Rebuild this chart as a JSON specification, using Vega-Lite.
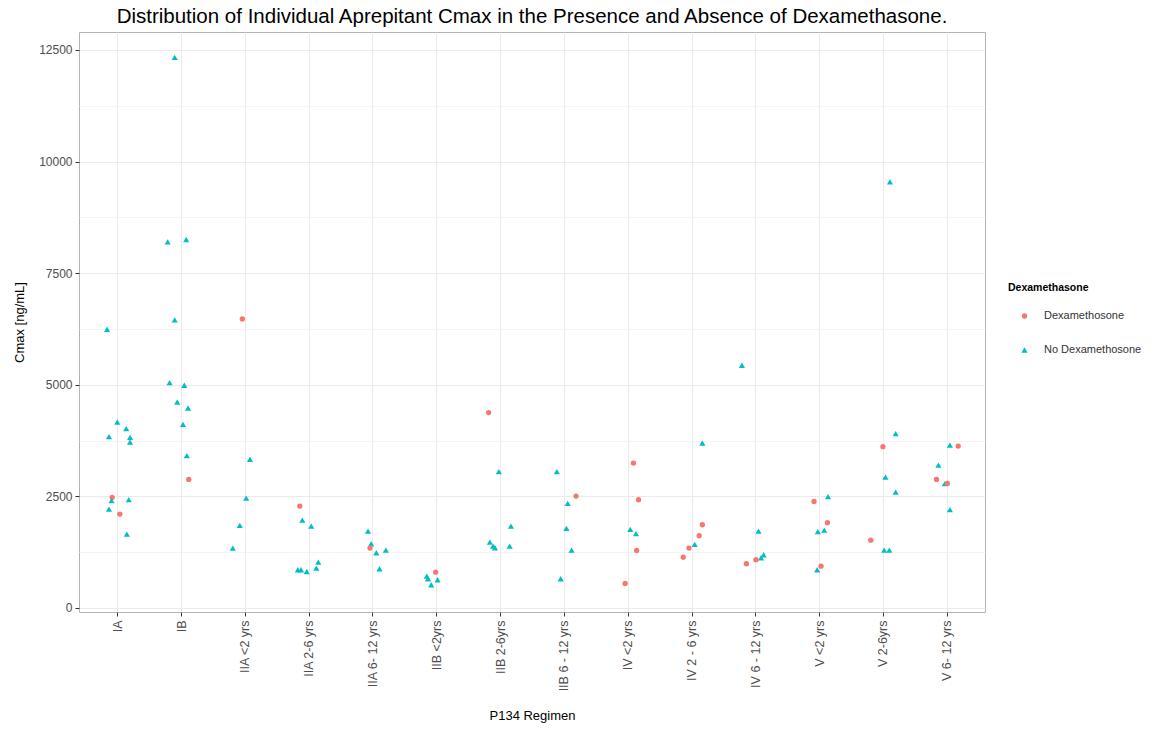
{
  "$schema": "https://vega.github.io/schema/vega-lite/v6.json",
  "autosize": {"type": "none"},
  "width": 906,
  "height": 580,
  "padding": {"left": 79, "top": 32, "right": 188, "bottom": 117},
  "background": "white",
  "config": {
    "font": "Liberation Sans",
    "view": {"stroke": "#b3b3b3", "strokeWidth": 1}
  },
  "title": {
    "text": "Distribution of Individual Aprepitant Cmax in the Presence and Absence of Dexamethasone.",
    "fontSize": 20.5,
    "fontWeight": "normal",
    "color": "black",
    "anchor": "middle",
    "offset": 5
  },
  "data": {
    "values": [
      {"r": "IA", "c": 6244, "d": "No Dexamethosone", "j": -0.16},
      {"r": "IA", "c": 4166, "d": "No Dexamethosone", "j": 0.0},
      {"r": "IA", "c": 4018, "d": "No Dexamethosone", "j": 0.14},
      {"r": "IA", "c": 3839, "d": "No Dexamethosone", "j": -0.13},
      {"r": "IA", "c": 3823, "d": "No Dexamethosone", "j": 0.2},
      {"r": "IA", "c": 3717, "d": "No Dexamethosone", "j": 0.2},
      {"r": "IA", "c": 2478, "d": "Dexamethosone", "j": -0.08},
      {"r": "IA", "c": 2404, "d": "No Dexamethosone", "j": -0.09},
      {"r": "IA", "c": 2426, "d": "No Dexamethosone", "j": 0.18},
      {"r": "IA", "c": 2215, "d": "No Dexamethosone", "j": -0.13},
      {"r": "IA", "c": 2103, "d": "Dexamethosone", "j": 0.04},
      {"r": "IA", "c": 1655, "d": "No Dexamethosone", "j": 0.15},
      {"r": "IB", "c": 12336, "d": "No Dexamethosone", "j": -0.1},
      {"r": "IB", "c": 8202, "d": "No Dexamethosone", "j": -0.21},
      {"r": "IB", "c": 8255, "d": "No Dexamethosone", "j": 0.08},
      {"r": "IB", "c": 6453, "d": "No Dexamethosone", "j": -0.1},
      {"r": "IB", "c": 5049, "d": "No Dexamethosone", "j": -0.18},
      {"r": "IB", "c": 4989, "d": "No Dexamethosone", "j": 0.05},
      {"r": "IB", "c": 4614, "d": "No Dexamethosone", "j": -0.06},
      {"r": "IB", "c": 4480, "d": "No Dexamethosone", "j": 0.11},
      {"r": "IB", "c": 4114, "d": "No Dexamethosone", "j": 0.03},
      {"r": "IB", "c": 3413, "d": "No Dexamethosone", "j": 0.09},
      {"r": "IB", "c": 2881, "d": "Dexamethosone", "j": 0.12},
      {"r": "IIA <2 yrs", "c": 6475, "d": "Dexamethosone", "j": -0.04},
      {"r": "IIA <2 yrs", "c": 3330, "d": "No Dexamethosone", "j": 0.08},
      {"r": "IIA <2 yrs", "c": 2462, "d": "No Dexamethosone", "j": 0.02},
      {"r": "IIA <2 yrs", "c": 1850, "d": "No Dexamethosone", "j": -0.08},
      {"r": "IIA <2 yrs", "c": 1341, "d": "No Dexamethosone", "j": -0.19},
      {"r": "IIA 2-6 yrs", "c": 2283, "d": "Dexamethosone", "j": -0.14},
      {"r": "IIA 2-6 yrs", "c": 1969, "d": "No Dexamethosone", "j": -0.1},
      {"r": "IIA 2-6 yrs", "c": 1834, "d": "No Dexamethosone", "j": 0.04},
      {"r": "IIA 2-6 yrs", "c": 1027, "d": "No Dexamethosone", "j": 0.15},
      {"r": "IIA 2-6 yrs", "c": 892, "d": "No Dexamethosone", "j": 0.12},
      {"r": "IIA 2-6 yrs", "c": 856, "d": "No Dexamethosone", "j": -0.17},
      {"r": "IIA 2-6 yrs", "c": 856, "d": "No Dexamethosone", "j": -0.12},
      {"r": "IIA 2-6 yrs", "c": 818, "d": "No Dexamethosone", "j": -0.03},
      {"r": "IIA 6- 12 yrs", "c": 1722, "d": "No Dexamethosone", "j": -0.07},
      {"r": "IIA 6- 12 yrs", "c": 1439, "d": "No Dexamethosone", "j": -0.02},
      {"r": "IIA 6- 12 yrs", "c": 1341, "d": "Dexamethosone", "j": -0.04},
      {"r": "IIA 6- 12 yrs", "c": 1238, "d": "No Dexamethosone", "j": 0.06},
      {"r": "IIA 6- 12 yrs", "c": 1296, "d": "No Dexamethosone", "j": 0.21},
      {"r": "IIA 6- 12 yrs", "c": 879, "d": "No Dexamethosone", "j": 0.11},
      {"r": "IIB <2yrs", "c": 803, "d": "Dexamethosone", "j": -0.01},
      {"r": "IIB <2yrs", "c": 713, "d": "No Dexamethosone", "j": -0.15},
      {"r": "IIB <2yrs", "c": 655, "d": "No Dexamethosone", "j": -0.13},
      {"r": "IIB <2yrs", "c": 632, "d": "No Dexamethosone", "j": 0.02},
      {"r": "IIB <2yrs", "c": 520, "d": "No Dexamethosone", "j": -0.08},
      {"r": "IIB 2-6yrs", "c": 4377, "d": "Dexamethosone", "j": -0.18},
      {"r": "IIB 2-6yrs", "c": 3054, "d": "No Dexamethosone", "j": -0.02},
      {"r": "IIB 2-6yrs", "c": 1834, "d": "No Dexamethosone", "j": 0.17},
      {"r": "IIB 2-6yrs", "c": 1475, "d": "No Dexamethosone", "j": -0.16},
      {"r": "IIB 2-6yrs", "c": 1386, "d": "No Dexamethosone", "j": -0.11},
      {"r": "IIB 2-6yrs", "c": 1350, "d": "No Dexamethosone", "j": -0.08},
      {"r": "IIB 2-6yrs", "c": 1386, "d": "No Dexamethosone", "j": 0.15},
      {"r": "IIB 6 - 12 yrs", "c": 3054, "d": "No Dexamethosone", "j": -0.11},
      {"r": "IIB 6 - 12 yrs", "c": 2507, "d": "Dexamethosone", "j": 0.19},
      {"r": "IIB 6 - 12 yrs", "c": 2343, "d": "No Dexamethosone", "j": 0.06},
      {"r": "IIB 6 - 12 yrs", "c": 1783, "d": "No Dexamethosone", "j": 0.04},
      {"r": "IIB 6 - 12 yrs", "c": 1296, "d": "No Dexamethosone", "j": 0.12},
      {"r": "IIB 6 - 12 yrs", "c": 655, "d": "No Dexamethosone", "j": -0.05},
      {"r": "IV <2 yrs", "c": 3247, "d": "Dexamethosone", "j": 0.09},
      {"r": "IV <2 yrs", "c": 2426, "d": "Dexamethosone", "j": 0.17},
      {"r": "IV <2 yrs", "c": 1760, "d": "No Dexamethosone", "j": 0.04},
      {"r": "IV <2 yrs", "c": 1664, "d": "No Dexamethosone", "j": 0.13},
      {"r": "IV <2 yrs", "c": 1289, "d": "Dexamethosone", "j": 0.14},
      {"r": "IV <2 yrs", "c": 549, "d": "Dexamethosone", "j": -0.04},
      {"r": "IV 2 - 6 yrs", "c": 3695, "d": "No Dexamethosone", "j": 0.17},
      {"r": "IV 2 - 6 yrs", "c": 1865, "d": "Dexamethosone", "j": 0.17},
      {"r": "IV 2 - 6 yrs", "c": 1619, "d": "Dexamethosone", "j": 0.12},
      {"r": "IV 2 - 6 yrs", "c": 1424, "d": "No Dexamethosone", "j": 0.05},
      {"r": "IV 2 - 6 yrs", "c": 1341, "d": "Dexamethosone", "j": -0.04},
      {"r": "IV 2 - 6 yrs", "c": 1139, "d": "Dexamethosone", "j": -0.13},
      {"r": "IV 6 - 12 yrs", "c": 5437, "d": "No Dexamethosone", "j": -0.21},
      {"r": "IV 6 - 12 yrs", "c": 1722, "d": "No Dexamethosone", "j": 0.05},
      {"r": "IV 6 - 12 yrs", "c": 1193, "d": "No Dexamethosone", "j": 0.13},
      {"r": "IV 6 - 12 yrs", "c": 1126, "d": "No Dexamethosone", "j": 0.09},
      {"r": "IV 6 - 12 yrs", "c": 1081, "d": "Dexamethosone", "j": 0.01},
      {"r": "IV 6 - 12 yrs", "c": 991, "d": "Dexamethosone", "j": -0.14},
      {"r": "V <2 yrs", "c": 2388, "d": "Dexamethosone", "j": -0.08},
      {"r": "V <2 yrs", "c": 2493, "d": "No Dexamethosone", "j": 0.14},
      {"r": "V <2 yrs", "c": 1910, "d": "Dexamethosone", "j": 0.13},
      {"r": "V <2 yrs", "c": 1744, "d": "No Dexamethosone", "j": 0.08},
      {"r": "V <2 yrs", "c": 1709, "d": "No Dexamethosone", "j": -0.02},
      {"r": "V <2 yrs", "c": 937, "d": "Dexamethosone", "j": 0.03},
      {"r": "V <2 yrs", "c": 857, "d": "No Dexamethosone", "j": -0.03},
      {"r": "V 2-6yrs", "c": 9547, "d": "No Dexamethosone", "j": 0.11},
      {"r": "V 2-6yrs", "c": 3906, "d": "No Dexamethosone", "j": 0.2},
      {"r": "V 2-6yrs", "c": 3614, "d": "Dexamethosone", "j": 0.0},
      {"r": "V 2-6yrs", "c": 2933, "d": "No Dexamethosone", "j": 0.04},
      {"r": "V 2-6yrs", "c": 2596, "d": "No Dexamethosone", "j": 0.2},
      {"r": "V 2-6yrs", "c": 1520, "d": "Dexamethosone", "j": -0.19},
      {"r": "V 2-6yrs", "c": 1296, "d": "No Dexamethosone", "j": 0.02},
      {"r": "V 2-6yrs", "c": 1296, "d": "No Dexamethosone", "j": 0.1},
      {"r": "V 6- 12 yrs", "c": 3650, "d": "No Dexamethosone", "j": 0.05},
      {"r": "V 6- 12 yrs", "c": 3628, "d": "Dexamethosone", "j": 0.18},
      {"r": "V 6- 12 yrs", "c": 3202, "d": "No Dexamethosone", "j": -0.13},
      {"r": "V 6- 12 yrs", "c": 2881, "d": "Dexamethosone", "j": -0.16},
      {"r": "V 6- 12 yrs", "c": 2785, "d": "No Dexamethosone", "j": -0.03},
      {"r": "V 6- 12 yrs", "c": 2791, "d": "Dexamethosone", "j": 0.01},
      {"r": "V 6- 12 yrs", "c": 2202, "d": "No Dexamethosone", "j": 0.05}
    ]
  },
  "layer": [
    {
      "mark": {"type": "point", "opacity": 0},
      "encoding": {
        "y": {
          "field": "c",
          "type": "quantitative",
          "scale": {"domain": [-90, 12903], "nice": false, "zero": false},
          "axis": {
            "orient": "right",
            "values": [1250, 3750, 6250, 8750, 11250],
            "grid": true,
            "gridColor": "#F4F4F4",
            "labels": false,
            "ticks": false,
            "domain": false,
            "title": null
          }
        }
      }
    },
    {
      "mark": {"type": "point", "filled": true, "opacity": 1, "strokeWidth": 0},
      "encoding": {
        "x": {
          "field": "r",
          "type": "nominal",
          "sort": null,
          "scale": {"type": "point", "padding": 0.6},
          "axis": {
            "title": "P134 Regimen",
            "titleFontSize": 13,
            "titleFontWeight": "normal",
            "titleColor": "black",
            "titleY": 103,
            "titleBaseline": "middle",
            "labelAngle": 270,
            "labelAlign": "right",
            "labelBaseline": "middle",
            "labelFontSize": 12.5,
            "labelColor": "#4D4D4D",
            "labelPadding": 4,
            "tickColor": "#333333",
            "tickSize": 4,
            "grid": true,
            "gridColor": "#EBEBEB",
            "domain": false
          }
        },
        "xOffset": {
          "field": "j",
          "type": "quantitative",
          "scale": {"domain": [-0.5, 0.5], "range": [-31.9, 31.9]}
        },
        "y": {
          "field": "c",
          "type": "quantitative",
          "scale": {"domain": [-90, 12903], "nice": false, "zero": false},
          "axis": {
            "title": "Cmax [ng/mL]",
            "titleFontSize": 13,
            "titleFontWeight": "normal",
            "titleColor": "black",
            "titlePadding": 12,
            "values": [0, 2500, 5000, 7500, 10000, 12500],
            "format": "d",
            "labelFontSize": 12,
            "labelColor": "#4D4D4D",
            "labelPadding": 3,
            "tickColor": "#333333",
            "tickSize": 4,
            "grid": true,
            "gridColor": "#EBEBEB",
            "domain": false
          }
        },
        "color": {
          "field": "d",
          "type": "nominal",
          "scale": {"domain": ["Dexamethosone", "No Dexamethosone"], "range": ["#F8766D", "#00BFC4"]},
          "legend": {
            "title": "Dexamethasone",
            "orient": "none",
            "legendX": 929,
            "legendY": 251,
            "titleFontSize": 10.5,
            "titleFontWeight": "bold",
            "titleColor": "black",
            "titlePadding": 17,
            "labelFontSize": 11,
            "labelColor": "#333333",
            "symbolSize": 34,
            "symbolOffset": 11,
            "labelOffset": 14,
            "rowPadding": 22
          }
        },
        "shape": {
          "field": "d",
          "type": "nominal",
          "scale": {"domain": ["Dexamethosone", "No Dexamethosone"], "range": ["circle", "triangle-up"]},
          "legend": {
            "title": "Dexamethasone",
            "orient": "none",
            "legendX": 929,
            "legendY": 251,
            "titleFontSize": 10.5,
            "titleFontWeight": "bold",
            "titleColor": "black",
            "titlePadding": 17,
            "labelFontSize": 11,
            "labelColor": "#333333",
            "symbolSize": 34,
            "symbolOffset": 11,
            "labelOffset": 14,
            "rowPadding": 22
          }
        },
        "size": {
          "field": "d",
          "type": "nominal",
          "scale": {"domain": ["Dexamethosone", "No Dexamethosone"], "range": [28, 38]},
          "legend": null
        }
      }
    }
  ],
  "resolve": {"axis": {"y": "independent"}}
}
